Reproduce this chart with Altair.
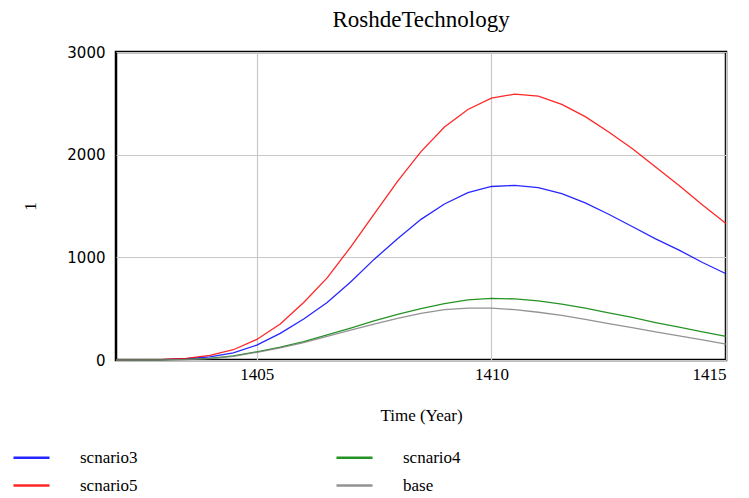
import altair as alt
import pandas as pd

years = [1402, 1402.5, 1403, 1403.5, 1404, 1404.5, 1405, 1405.5, 1406, 1406.5, 1407, 1407.5,
         1408, 1408.5, 1409, 1409.5, 1410, 1410.5, 1411, 1411.5, 1412, 1412.5, 1413,
         1413.5, 1414, 1414.5, 1415]

scnario3 = [0, 1, 3, 12, 30, 70, 145, 260, 400, 560, 760, 980, 1180, 1370, 1520, 1630,
            1690, 1700, 1680, 1620, 1530, 1420, 1300, 1180, 1070, 950, 840]
scnario5 = [0, 1, 5, 15, 45, 100, 200, 350, 560, 800, 1100, 1420, 1740, 2030, 2270, 2440,
            2550, 2590, 2570, 2490, 2370, 2220, 2060, 1880, 1700, 1510, 1330]
scnario4 = [0, 0, 2, 6, 15, 40, 80, 125, 180, 245, 310, 380, 445, 500, 550, 585,
            600, 595, 575, 545, 505, 460, 415, 365, 320, 275, 230]
base = [0, 0, 2, 5, 14, 35, 75, 118, 170, 230, 290, 350, 405, 455, 490, 505,
        505, 490, 465, 435, 395, 355, 315, 275, 235, 195, 155]

# legend fills column-wise: column 1 = scnario3, scnario5; column 2 = scnario4, base
series_names = ["scnario3", "scnario5", "scnario4", "base"]
series_colors = ["#0000ff", "#ff0000", "#008000", "#808080"]
series_values = {"scnario3": scnario3, "scnario4": scnario4, "scnario5": scnario5, "base": base}

x_ticks = [1405, 1410, 1415]
y_ticks = [0, 1000, 2000, 3000]

rows = []
for name in series_names:
    for t, v in zip(years, series_values[name]):
        rows.append({"Time": t, "value": v, "series": name})
df = pd.DataFrame(rows)

serif = "Liberation Serif"

chart = alt.Chart(df).mark_line(strokeWidth=1.3, opacity=0.85).encode(
    x=alt.X("Time:Q", scale=alt.Scale(domain=[1402, 1415], nice=False, zero=False),
            axis=alt.Axis(values=x_ticks, title="Time (Year)", format="d",
                          labelFont=serif, labelFontSize=17, labelColor="#000",
                          titleFont=serif, titleFontSize=17, titleFontWeight="normal",
                          titleColor="#000", labelPadding=6, titlePadding=25,
                          ticks=False, domain=False, gridColor="#c8c8c8", gridWidth=1.2)),
    y=alt.Y("value:Q", scale=alt.Scale(domain=[0, 3000], nice=False),
            axis=alt.Axis(values=y_ticks, title="1", format="d",
                          labelFont="DejaVu Sans", labelFontSize=15, labelColor="#000",
                          titleFont=serif, titleFontSize=17, titleFontWeight="normal",
                          titleColor="#000", labelPadding=11, titlePadding=27,
                          ticks=False, domain=False, gridColor="#c8c8c8", gridWidth=1.2)),
    color=alt.Color("series:N", sort=series_names,
                    scale=alt.Scale(domain=series_names, range=series_colors),
                    legend=alt.Legend(title=None, orient="none", legendX=-104, legendY=386,
                                      columns=2, symbolType="stroke", symbolSize=1300,
                                      symbolStrokeWidth=2.5, labelFont=serif, labelFontSize=17,
                                      labelColor="#000", labelOffset=29, columnPadding=193,
                                      rowPadding=-6, labelLimit=80)),
    order=alt.Order("order:Q"),
).transform_calculate(
    order="datum.series == 'base' ? 0 : datum.series == 'scnario4' ? 1 : datum.series == 'scnario3' ? 2 : 3"
).properties(
    width=610, height=308,
    background="white",
    title=alt.TitleParams("RoshdeTechnology", font=serif, fontSize=23, fontWeight="normal",
                          color="#000", offset=13, anchor="middle"),
    autosize=alt.AutoSizeParams(type="none"),
    padding={"left": 108, "top": 44, "right": 15, "bottom": 150},
).configure_view(stroke="#000", strokeWidth=2.5)

chart.save("out.html", embed_options={"renderer": "svg", "actions": False})
